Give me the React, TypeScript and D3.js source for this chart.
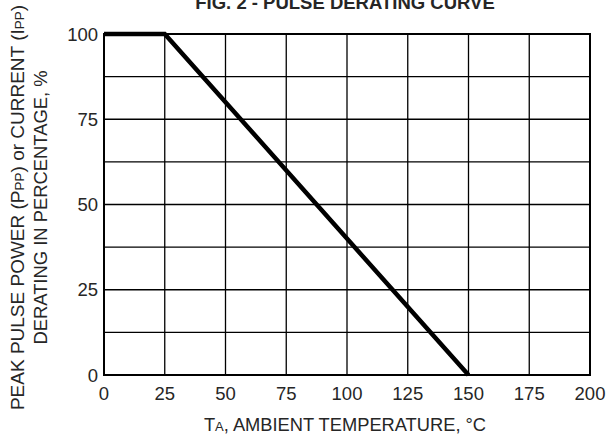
import React from "react";
import * as d3 from "d3";

const tempC = [0, 25, 150];
const deratingPct = [100, 100, 0];
const xTicks = [0, 25, 50, 75, 100, 125, 150, 175, 200];
const yTicks = [0, 25, 50, 75, 100];
const yGrid = [0, 12.5, 25, 37.5, 50, 62.5, 75, 87.5, 100];
const title = "FIG. 2 - PULSE DERATING CURVE";

const W = 610;
const H = 438;
const M = { left: 104, right: 590, top: 34, bottom: 375 };
const FONT = "'Liberation Sans', Arial, Helvetica, sans-serif";
const TXT = "#262626";

export default function App() {
  const x = d3.scaleLinear().domain([0, 200]).range([M.left, M.right]);
  const y = d3.scaleLinear().domain([0, 100]).range([M.bottom, M.top]);
  const line = d3
    .line<number>()
    .x((_, i) => x(tempC[i]))
    .y((d) => y(d));

  const cx = (M.left + M.right) / 2;
  const cy = (M.top + M.bottom) / 2 + 3;

  return (
    <svg
      width={W}
      height={H}
      style={{ position: "absolute", left: 0, top: 0, background: "#fff" }}
      fontFamily={FONT}
    >
      <rect x={0} y={0} width={W} height={H} fill="#fff" />
      <text x={345} y={8.5} textAnchor="middle" fontSize={18.5} fontWeight="bold" fill={TXT}>
        {title}
      </text>
      {/* grid */}
      {xTicks.map((t) => (
        <line key={"vx" + t} x1={x(t)} x2={x(t)} y1={M.top} y2={M.bottom} stroke="#000" strokeWidth={1.3} />
      ))}
      {yGrid.map((t) => (
        <line key={"hy" + t} x1={M.left} x2={M.right} y1={y(t)} y2={y(t)} stroke="#000" strokeWidth={1.3} />
      ))}
      <rect
        x={M.left}
        y={M.top}
        width={M.right - M.left}
        height={M.bottom - M.top}
        fill="none"
        stroke="#000"
        strokeWidth={2}
      />
      {/* data */}
      <path d={line(deratingPct) || ""} fill="none" stroke="#000" strokeWidth={4.5} strokeLinejoin="miter" />
      {/* tick labels */}
      {xTicks.map((t) => (
        <text key={"xl" + t} x={x(t)} y={400} textAnchor="middle" fontSize={18.5} fill={TXT}>
          {t}
        </text>
      ))}
      {yTicks.map((t) => (
        <text key={"yl" + t} x={98} y={y(t) + 6.5} textAnchor="end" fontSize={18.5} fill={TXT}>
          {t}
        </text>
      ))}
      {/* x title */}
      <text x={cx - 2} y={431} textAnchor="middle" fontSize={18.3} fill={TXT}>
        T<tspan fontSize={13}>A</tspan>, AMBIENT TEMPERATURE, °C
      </text>
      {/* y title */}
      <g transform={`translate(24, ${cy}) rotate(-90)`}>
        <text x={0} y={0} textAnchor="middle" fontSize={19} fill={TXT}>
          PEAK PULSE POWER (P<tspan fontSize={13.5}>PP</tspan>) or CURRENT (I<tspan fontSize={13.5}>PP</tspan>)
        </text>
      </g>
      <g transform={`translate(47, ${cy}) rotate(-90)`}>
        <text x={0} y={0} textAnchor="middle" fontSize={18.4} fill={TXT}>
          DERATING IN PERCENTAGE, %
        </text>
      </g>
    </svg>
  );
}
